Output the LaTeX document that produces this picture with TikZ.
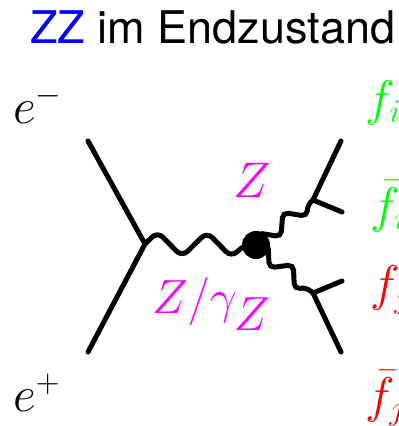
\documentclass[tikz,border=0pt]{standalone}
\usepackage{fix-cm}
\usepackage{fontspec}
\setmainfont{TeX Gyre Heros}
\usepackage{amsmath}
\usetikzlibrary{decorations.pathmorphing}
\DeclareMathSizes{50}{50}{33}{25}
\DeclareMathSizes{48}{48}{32}{24}
\definecolor{zblue}{HTML}{0000FF}
\definecolor{zpink}{HTML}{FF00FF}
\definecolor{fgreen}{HTML}{00FF00}
\definecolor{fred}{HTML}{FF0000}

\begin{document}
\begin{tikzpicture}[x=1pt, y=-1pt, font=\fontsize{50}{56}\selectfont]
  \tikzset{
    fermion/.style={draw=black, line width=5pt, line cap=round, line join=round},
    boson/.style={draw=black, line width=5pt, rounded corners=7.8pt, decorate, decoration={zigzag, amplitude=12.5pt, segment length=49.5pt}},
    bosonshort/.style={boson, rounded corners=5.5pt, decoration={zigzag, amplitude=9pt, segment length=33pt}},
    lbl/.style={anchor=base west, inner sep=0pt},
  }
  \path[use as bounding box, clip] (0,0) rectangle (399,426);
  \node[lbl, font=\fontsize{45}{50}\selectfont] (title) at (30,43) {\textcolor{zblue}{ZZ} im Endzustand};
  \coordinate (em) at (88,141);
  \coordinate (ep) at (88,352);
  \coordinate (v1) at (145,244);
  \node[circle, fill=black, inner sep=0pt, minimum size=28pt] (blob) at (256,245) {};
  \coordinate (v2) at (313,200);
  \coordinate (v3) at (313,293);
  \coordinate (fi) at (341,141);
  \coordinate (fibar) at (342,212);
  \coordinate (fj) at (342,281);
  \coordinate (fjbar) at (341,352);
  \draw[fermion] (em) -- (v1) -- (ep);
  \draw[boson] (v1) -- (blob.center);
  \draw[bosonshort] (blob.center) -- (v2);
  \draw[bosonshort] (blob.center) -- (v3);
  \draw[fermion] (v2) -- (fi);
  \draw[fermion] (v2) -- (fibar);
  \draw[fermion] (v3) -- (fj);
  \draw[fermion] (v3) -- (fjbar);
  \node[lbl] (lem) at (13,123) {$e^-$};
  \node[lbl] (lep) at (13,411) {$e^+$};
  \node[lbl] (lz) at (233,197) {\textcolor{zpink}{$Z$}};
  \node[lbl, font=\fontsize{48}{54}\selectfont] (lzg) at (152,313) {\textcolor{zpink}{$Z/\gamma\kern-3pt\raisebox{-17pt}{$Z$}$}};
  \node[lbl] (lfi) at (365,115) {\textcolor{fgreen}{$f_i$}};
  \node[lbl] (lfib) at (370,222) {\textcolor{fgreen}{$\bar{f}_i$}};
  \node[lbl] (lfj) at (370,300) {\textcolor{fred}{$f_j$}};
  \node[lbl] (lfjb) at (365,412) {\textcolor{fred}{$\bar{f}_j$}};
\end{tikzpicture}
\end{document}
